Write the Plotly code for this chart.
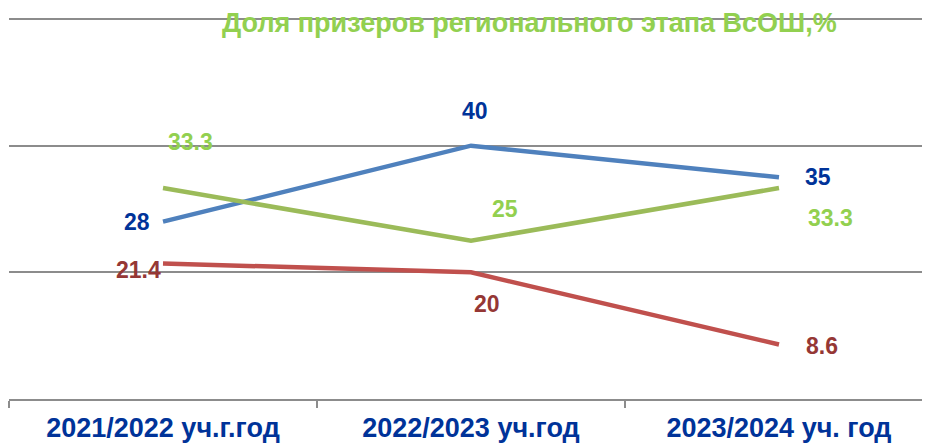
import plotly.graph_objects as go

categories = ["2021/2022 уч.г.год", "2022/2023 уч.год", "2023/2024 уч. год"]
blue_vals = [28, 40, 35]
green_vals = [33.3, 25, 33.3]
red_vals = [21.4, 20, 8.6]
title_text = "Доля призеров регионального этапа ВсОШ,%"

series = [
    (blue_vals, "#4F81BD", "#003399", [(-26, 0), (4, 35), (39, 0)]),
    (green_vals, "#9BBB59", "#92D050", [(27, 46), (34, 32), (51, -30)]),
    (red_vals, "#C0504D", "#953735", [(-25, -7), (16, -32), (43, -1)]),
]

FONT = "Liberation Sans, Arial, sans-serif"

fig = go.Figure()
annotations = []
for vals, lc, tc, shifts in series:
    fig.add_trace(go.Scatter(x=categories, y=vals, mode="lines",
                             line=dict(color=lc, width=4.5), showlegend=False))
    for c, v, (dx, dy) in zip(categories, vals, shifts):
        annotations.append(dict(x=c, y=v, xref="x", yref="y", text="<b>%g</b>" % v,
                                showarrow=False, xshift=dx, yshift=dy,
                                font=dict(family=FONT, size=23, color=tc)))

annotations.append(dict(x=0.563, y=1, xref="paper", yref="paper", text="<b>" + title_text + "</b>",
                        showarrow=False, yanchor="middle", yshift=-8,
                        font=dict(family=FONT, size=27, color="#92D050")))

fig.update_layout(
    width=930, height=445,
    margin=dict(l=1, r=5, t=7, b=54),
    plot_bgcolor="white", paper_bgcolor="white",
    annotations=annotations,
    font=dict(family=FONT),
)
fig.update_xaxes(type="category", range=[-0.5, 2.5], showgrid=False,
                 showline=True, linecolor="#8C8C8C", linewidth=2,
                 ticks="outside", tickson="boundaries", ticklen=7, tickcolor="#8C8C8C", tickwidth=2,
                 ticklabelstandoff=4,
                 tickfont=dict(family=FONT, size=27, color="#003399"),
                 tickprefix="<b>", ticksuffix="</b>")
fig.update_yaxes(range=[0, 60.63], dtick=20, showgrid=True, gridcolor="#8C8C8C", gridwidth=2,
                 showticklabels=False, zeroline=False, showline=False)

fig.write_html("out.html")
